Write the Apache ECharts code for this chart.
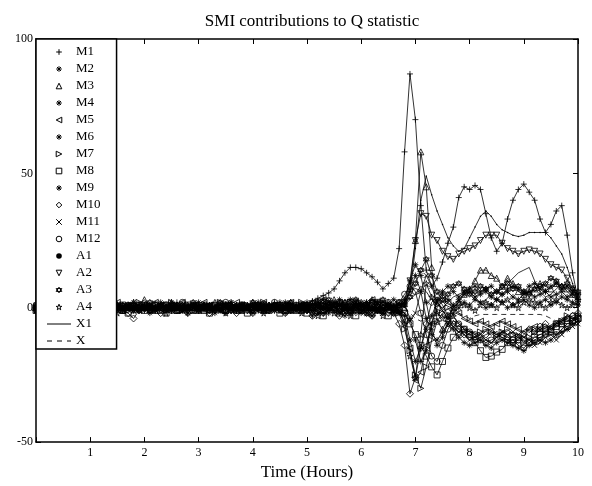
<!DOCTYPE html>
<html>
<head>
<meta charset="UTF-8">
<title>SMI contributions to Q statistic</title>
<script src="https://cdn.jsdelivr.net/npm/echarts@6/dist/echarts.min.js"></script>
<style>
    html, body { margin: 0; padding: 0; background: #fff; }
    #chart { width: 592px; height: 486px; }
</style>
</head>
<body>
<div id="chart"></div>
<script>
// time axis (hours), one sample every 0.1 h
const hours = [
    0,0.1,0.2,0.3,0.4,0.5,0.6,0.7,0.8,0.9,
    1,1.1,1.2,1.3,1.4,1.5,1.6,1.7,1.8,1.9,
    2,2.1,2.2,2.3,2.4,2.5,2.6,2.7,2.8,2.9,
    3,3.1,3.2,3.3,3.4,3.5,3.6,3.7,3.8,3.9,
    4,4.1,4.2,4.3,4.4,4.5,4.6,4.7,4.8,4.9,
    5,5.1,5.2,5.3,5.4,5.5,5.6,5.7,5.8,5.9,
    6,6.1,6.2,6.3,6.4,6.5,6.6,6.7,6.8,6.9,
    7,7.1,7.2,7.3,7.4,7.5,7.6,7.7,7.8,7.9,
    8,8.1,8.2,8.3,8.4,8.5,8.6,8.7,8.8,8.9,
    9,9.1,9.2,9.3,9.4,9.5,9.6,9.7,9.8,9.9,10
];

const m1 = [
    0,1,-1,1,0,2,-1,0,1,-1, 1,0,-1,2,1,0,-1,1,0,1, -1,0,1,1,-1,0,2,0,-1,1,
    0,1,-1,0,1,1,0,-1,1,0, 1,-1,0,1,2,0,1,-1,0,1, 1,2.5,3.5,4.5,5.5,7,10,13,15,15,
    14.5,13,11.5,9.5,7,9,11,22,
    58,87, 70,38,14,8,11,17,24,30,41,45, 44,45.5,44,35,26,21,24,33,40,44,
    46,43,40,33,28,31,36,38,27,13, 3
];
const m2 = [
    -1,0,1,-2,0,1,0,-1,2,0, 0,-1,1,0,-2,1,0,1,-1,0, 1,-1,0,2,0,-1,1,0,-2,1,
    -1,1,0,-1,1,0,2,-1,0,1, 0,-1,1,0,-1,2,0,-1,1,0, -1,1,2,0,-2,1,3,0,-1,2,
    1,-2,0,2,-1,1,0,1,
    2,6, 12,6,-4,-10,-12,-9,-6,-8,-11,-13, -14,-13,-12,-14,-15,-13,-12,-13,-14,-15,
    -16,-14,-13,-12,-13,-12,-10,-9,-8,-6, -5
];
const m3 = [
    1,0,-1,1,2,0,-1,1,0,-1, 0,2,1,-1,0,1,-1,0,2,1, 3,0,-1,1,0,2,-1,0,1,0,
    -1,1,0,2,0,-1,1,0,-1,1, 2,0,-1,1,0,1,-1,2,0,-1, 1,0,2,-1,1,3,0,2,-1,1,
    2,0,3,1,-1,2,0,1,
    0,8, 25,58,45,15,-5,-8,-4,0,2,5, 7,10,14,14,12,11,8,11,9,6,
    5,6,7,9,8,7,9,8,7,5, 4
];
const m4 = [
    0,-1,-2,0,1,-1,0,-2,-1,0, -1,0,1,-1,-2,0,-1,0,1,-1, 0,-2,-1,0,1,-1,0,-1,-2,0,
    1,-1,0,-2,-1,0,1,-1,0,-1, -2,0,-1,1,0,-1,-2,0,-1,0, -1,-3,0,-2,-1,1,-2,-3,0,-1,
    -2,0,-3,-1,-2,0,-1,-2,
    -3,-12, -20,-15,-8,-3,2,5,3,1,3,5, 6,4,5,6,4,3,5,6,4,3,
    5,6,4,5,6,4,5,6,4,5, 3
];
const m5 = [
    1,2,0,1,-1,0,2,1,0,1, 2,0,1,-1,1,2,0,1,0,-1, 1,0,2,1,0,1,-1,2,0,1,
    0,2,1,0,-1,1,0,2,1,0, 1,-1,2,0,1,0,1,2,-1,1, 0,2,1,3,0,1,2,-1,1,2,
    0,1,3,2,0,-1,1,-2,
    -5,-15, -27,-24,-14,-6,0,3,2,0,-2,-4, -5,-6,-5,-6,-7,-6,-5,-6,-7,-8,
    -9,-8,-7,-8,-9,-7,-6,-5,-4,-5, -4
];
const m6 = [
    -1,1,0,-1,0,1,-1,0,-2,1, 0,-1,0,1,-1,0,-1,1,0,-1, 0,1,-1,0,-1,0,1,-1,0,1,
    -1,0,1,-1,0,-2,0,1,-1,0, 1,0,-1,0,1,-1,0,1,0,-1, 0,1,-2,0,2,-1,1,0,-2,1,
    -1,2,0,-1,1,0,-2,1,
    1,-4, -12,-20,-16,-6,3,6,8,6,4,6, 7,8,6,7,8,6,5,7,8,7,
    6,8,9,7,6,8,9,7,8,6, 5
];
const m7 = [
    0,1,2,0,-1,1,0,1,-1,0, 1,2,0,-1,0,1,1,-1,0,2, 0,1,-1,0,1,2,0,-1,1,0,
    1,0,-1,1,2,0,1,0,-1,1, 0,1,2,-1,0,1,0,1,-1,2, 1,0,-2,1,2,0,-1,1,2,0,
    -1,1,0,2,-1,0,1,-2,
    -8,-16, -25,-30,-22,-12,-5,-2,0,-3,-6,-8, -9,-10,-9,-8,-9,-10,-9,-8,-10,-11,
    -13,-11,-9,-8,-7,-8,-6,-5,-3,-4, -3
];
const m8 = [
    -1,0,-1,1,0,-2,0,1,-1,0, -2,-1,0,1,-1,0,-1,-2,0,1, -1,0,1,-1,-2,0,-1,0,1,-1,
    0,-1,-2,0,1,-1,0,-1,0,-2, -1,0,1,-1,0,-2,-1,0,-1,1, -2,0,-1,-3,0,1,-2,-1,0,-3,
    -1,0,-2,1,-1,-3,0,-1,
    -2,-6, -10,-14,-18,-22,-25,-20,-15,-11,-9,-8, -10,-13,-16,-18.5,-18,-16.5,-15.5,-13,-12,-11,
    -12,-13,-11,-10,-9,-8,-7,-6,-7,-5, -4
];
const m9 = [
    1,0,1,2,0,-1,1,0,1,2, 0,1,-1,0,2,1,0,1,2,0, -1,1,0,1,0,2,1,-1,0,1,
    2,0,1,0,-1,1,2,0,1,0, 1,2,0,-1,1,0,2,1,0,1, 2,-1,1,3,0,2,1,-1,3,0,
    1,2,-1,0,2,1,3,1,
    3,10, 16,12,2,-8,-14,-11,-6,-2,0,2, 1,3,2,0,1,3,2,0,1,2,
    3,1,0,2,3,1,2,4,3,2, 1
];
const m10 = [
    -1,-2,0,-1,1,0,-1,-2,0,-1, 0,-1,-2,-1,0,1,-1,-2,-4,-1, 0,-1,1,-2,0,-1,-1,0,-2,0,
    -1,0,-2,-1,0,1,-1,-2,0,-1, -2,0,-1,-1,1,0,-2,-1,0,-1, -1,-3,0,-2,1,-1,-3,0,-2,-1,
    0,-2,-3,-1,0,-2,-2,-6,
    -14,-32, -26,-15,-6,2,4,1,-3,-6,-8,-10, -11,-12,-11,-10,-9,-10,-11,-12,-13,-12,
    -10,-8,-9,-7,-6,-8,-6,-5,-4,-3, -2
];
const m11 = [
    0,1,0,-1,1,0,1,-1,0,1, -1,1,0,0,1,-1,0,1,-1,0, 1,0,-1,1,0,1,0,-1,1,0,
    0,-1,1,0,1,0,-1,1,0,1, -1,0,1,0,-1,1,0,1,-1,0, 1,-1,2,0,-1,2,1,-2,0,1,
    2,0,-1,1,-2,0,1,-1,
    -2,-5, -2,6,12,8,2,-1,-4,-7,-9,-10, -12,-11,-10,-12,-13,-11,-9,-10,-9,-10,
    -11,-12,-14,-13,-11,-10,-12,-10,-8,-7, -6
];
const m12 = [
    1,-1,0,1,0,-1,1,0,2,0, 1,0,-1,1,2,0,-1,1,0,1, 0,-1,1,0,1,-1,0,2,0,1,
    1,0,-1,1,0,2,0,-1,1,0, 0,1,-1,0,2,1,0,-1,1,0, 1,0,2,-1,1,0,2,1,-1,2,
    0,1,2,-1,1,2,0,2,
    5,8, 6,-2,-10,-18,-20,-14,-8,-5,-6,-8, -9,-10,-12,-13,-12,-11,-10,-11,-12,-14,
    -15,-13,-12,-11,-10,-9,-10,-8,-6,-5, -3
];
const a1 = [
    0,1,0,-1,0,1,0,0,1,0, -1,0,1,0,0,-1,1,0,0,1, 0,-1,0,1,0,0,1,-1,0,0,
    1,0,0,-1,0,1,0,0,-1,1, 0,0,1,0,-1,0,1,0,0,-1, 0,1,0,-1,1,0,2,0,-1,1,
    0,1,-1,2,0,1,0,1,
    2,6, 22,40,49,42,36,31,26,23,21,22, 26,30,34,36,34,31,29,28,27,26.5,
    27,28,28,28,28,26,23,20,15,9, 2
];
const a2 = [
    -1,0,1,0,-1,1,0,-1,0,1, 0,-1,0,1,0,-1,1,0,-1,0, 1,0,-1,0,1,0,-1,1,0,-1,
    0,1,0,-1,0,1,-1,0,1,0, -1,0,1,0,-1,0,1,-1,0,1, 0,-1,1,2,0,-1,1,0,2,-1,
    1,0,-1,2,0,1,-1,0,
    2,10, 25,35,34,27,25,21,19,18,20,21, 22,23,25,27,27,27,24,22,21,20,
    21,21.5,21,20,18,16,15,14,11,7, 4
];
const a3 = [
    0,1,1,0,-1,2,0,1,-1,0, 1,0,2,1,-1,0,1,0,1,-1, 0,2,0,1,-1,1,0,1,0,2,
    -1,0,1,0,2,1,-1,0,1,0, 2,1,0,-1,1,0,1,2,0,1, -1,2,0,1,3,1,-1,2,0,3,
    1,0,2,-1,3,1,0,2,
    1,4, 9,14,18,12,6,3,5,8,9,7, 5,6,8,7,5,6,8,9,7,8,
    6,5,7,8,9,11,10,8,9,7, 6
];
const a4 = [
    -1,0,-1,1,0,-1,0,1,-2,0, -1,1,0,-1,0,-2,1,0,-1,0, 1,-1,0,-1,-2,0,1,-1,0,-1,
    0,1,-1,0,-1,-2,0,1,-1,0, -1,0,-2,1,0,-1,0,-1,1,-2, 0,-1,-3,1,0,-2,-1,0,-3,1,
    -1,-2,0,-1,-3,0,-2,-1,
    -6,-18, -26,-10,9,4,-2,-4,-3,0,2,1, 0,-1,1,2,1,0,2,3,1,0,
    2,3,2,1,0,2,3,1,0,1, 2
];
const x1 = [
    0,0,1,0,-1,0,1,0,0,-1, 0,1,0,0,-1,0,0,1,0,0, -1,0,0,1,0,0,-1,0,1,0,
    0,-1,0,0,1,0,0,-1,0,1, 0,0,-1,0,1,0,0,1,-1,0, 1,0,0,-1,1,2,0,-1,1,0,
    -1,1,2,0,-1,1,0,0,
    1,3, 5,8,6,3,1,0,2,4,5,6, 5,3,2,3,5,6,7,9,11,13,
    14,15,10,6,4,5,7,9,6,4, 3
];
const x0 = [
    0,-1,0,0,1,0,-1,0,0,1, 0,0,-1,0,1,0,0,-1,0,0, 1,0,0,-1,0,0,1,0,-1,0,
    0,1,0,0,-1,0,0,1,0,-1, 0,0,1,0,0,-1,0,0,1,0, -1,0,1,0,-1,0,1,-1,0,1,
    0,-1,0,1,0,-1,0,-1,
    0,-2, -4,-5,-4,-3,-2,-3,-4,-3,-2,-3, -4,-3,-2.5,-2.5,-2.5,-2.5,-2.5,-2.5,-2.5,-2.5,
    -2.5,-2.5,-2.5,-2.5,-3,-4,-5,-4,-3,-2, -2
];

const xTicks = [1, 2, 3, 4, 5, 6, 7, 8, 9, 10];
const yTicks = [-50, 0, 50, 100];

// marker shapes
const PLUS = 'path://M5,0L5,10M0,5L10,5';
const CROSS = 'path://M0,0L10,10M10,0L0,10';
const ASTER = 'path://M5,0L5,10M0,5L10,5M1.5,1.5L8.5,8.5M8.5,1.5L1.5,8.5';
const TRI_L = 'path://M0,5L10,0L10,10Z';
const TRI_R = 'path://M10,5L0,0L0,10Z';
const TRI_D = 'path://M0,0L10,0L5,10Z';
const HEXA = 'path://M5,0L9.33,7.5L0.67,7.5ZM5,10L0.67,2.5L9.33,2.5Z';
const STAR = 'path://M5,0L6.18,3.82L10,3.82L6.9,6.18L8.09,10L5,7.64L1.91,10L3.1,6.18L0,3.82L3.82,3.82Z';

const FONT = 'Liberation Serif';

function pairs(values) {
    return hours.map((t, i) => [t, values[i]]);
}

function markerSeries(name, values, symbol, size) {
    return {
        type: 'line',
        name: name,
        data: pairs(values),
        symbol: symbol,
        symbolSize: size,
        showAllSymbol: true,
        lineStyle: { color: '#000', width: 0.8 },
        itemStyle: { color: 'transparent', borderColor: '#000', borderWidth: 0.8 },
        emphasis: { disabled: true },
        z: 2
    };
}

const series = [
    markerSeries('M1', m1, PLUS, 6),
    markerSeries('M2', m2, ASTER, 6),
    markerSeries('M3', m3, 'triangle', 6),
    markerSeries('M4', m4, ASTER, 6),
    markerSeries('M5', m5, TRI_L, 6),
    markerSeries('M6', m6, ASTER, 6),
    markerSeries('M7', m7, TRI_R, 6),
    markerSeries('M8', m8, 'rect', 6),
    markerSeries('M9', m9, ASTER, 6),
    markerSeries('M10', m10, 'diamond', 7),
    markerSeries('M11', m11, CROSS, 5),
    markerSeries('M12', m12, 'circle', 6),
    {
        type: 'line', name: 'A1', data: pairs(a1),
        symbol: 'circle', symbolSize: 1.5, showAllSymbol: true,
        lineStyle: { color: '#000', width: 0.8 },
        itemStyle: { color: '#000' },
        emphasis: { disabled: true }
    },
    markerSeries('A2', a2, TRI_D, 6),
    markerSeries('A3', a3, HEXA, 6),
    markerSeries('A4', a4, STAR, 6),
    {
        type: 'line', name: 'X1', data: pairs(x1), symbol: 'none',
        lineStyle: { color: '#000', width: 0.8 },
        itemStyle: { color: '#000' },
        emphasis: { disabled: true }
    },
    {
        type: 'line', name: 'X', data: pairs(x0), symbol: 'none',
        lineStyle: { color: '#000', width: 0.8, type: [5, 4] },
        itemStyle: { color: '#000' },
        emphasis: { disabled: true }
    }
];

// legend: markers only for M*/A*, plain lines for X1 and X
const legendData = series.map(s => {
    const item = { name: s.name };
    if (s.name === 'X1') {
        item.lineStyle = { opacity: 1, type: 'solid', width: 1 };
        item.itemStyle = { opacity: 0 };
    } else if (s.name === 'X') {
        item.lineStyle = { opacity: 1, type: [5, 5], width: 1 };
        item.itemStyle = { opacity: 0 };
    } else if (s.name === 'A1') {
        item.itemStyle = { color: '#000', borderWidth: 0 };
    }
    return item;
});

const axisLine = { show: true, onZero: false, lineStyle: { color: '#000', width: 1.5 } };
const tick = { show: true, inside: true, length: 5, lineStyle: { color: '#000', width: 1 } };

const chart = echarts.init(document.getElementById('chart'));
chart.setOption({
    animation: false,
    backgroundColor: '#fff',
    title: {
        text: 'SMI contributions to Q statistic',
        left: 307, top: 8, textAlign: 'center',
        textStyle: { fontFamily: FONT, fontSize: 17, fontWeight: 'normal', color: '#000' }
    },
    grid: { left: 36, right: 14, top: 39, bottom: 40 },
    legend: {
        orient: 'vertical',
        left: 36, top: 39,
        padding: [6, 16, 1, 10],
        itemGap: 3,
        itemWidth: 24,
        itemHeight: 7,
        backgroundColor: '#fff',
        borderColor: '#000',
        borderWidth: 1.5,
        itemStyle: { color: '#fff', borderColor: '#000', borderWidth: 1 },
        lineStyle: { opacity: 0 },
        textStyle: { fontFamily: FONT, fontSize: 13, lineHeight: 14, color: '#000' },
        data: legendData
    },
    xAxis: [
        {
            type: 'value', min: 0, max: 10, interval: 1,
            axisLine: axisLine, axisTick: tick, splitLine: { show: false },
            axisLabel: {
                margin: 5, fontFamily: FONT, fontSize: 12, color: '#000',
                formatter: v => xTicks.indexOf(v) >= 0 ? String(v) : ''
            },
            name: 'Time (Hours)', nameLocation: 'middle', nameGap: 16,
            nameTextStyle: { fontFamily: FONT, fontSize: 17, color: '#000' }
        },
        {
            type: 'value', position: 'top', min: 0, max: 10, interval: 1,
            axisLine: axisLine, axisTick: tick, splitLine: { show: false },
            axisLabel: { show: false }
        }
    ],
    yAxis: [
        {
            type: 'value', min: -50, max: 100, interval: 50,
            axisLine: axisLine, axisTick: tick, splitLine: { show: false },
            axisLabel: {
                margin: 3, fontFamily: FONT, fontSize: 12, color: '#000',
                formatter: v => yTicks.indexOf(v) >= 0 ? String(v) : ''
            }
        },
        {
            type: 'value', position: 'right', min: -50, max: 100, interval: 50,
            axisLine: axisLine, axisTick: tick, splitLine: { show: false },
            axisLabel: { show: false }
        }
    ],
    series: series
});
</script>
</body>
</html>
